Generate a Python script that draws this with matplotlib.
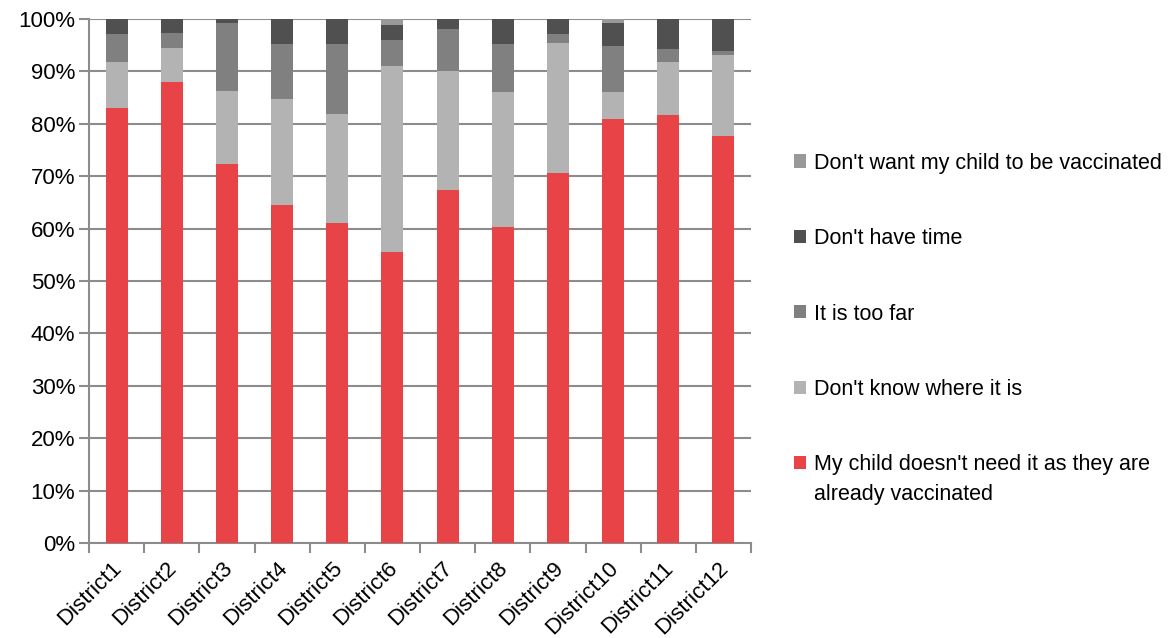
import numpy as np
from matplotlib import pyplot as plt
from matplotlib import transforms

plt.rcParams['font.family'] = ['Liberation Sans', 'DejaVu Sans']

districts = ["District%d" % i for i in range(1, 13)]

# percent of respondents, bottom to top of each stack
alreadyVacc = [83.1, 88.0, 72.3, 64.5, 61.0, 55.5, 67.3, 60.3, 70.7, 81.0, 81.7, 77.7]
dontKnow    = [8.6, 6.5, 14.0, 20.2, 20.9, 35.5, 22.8, 25.8, 24.7, 5.1, 10.0, 15.5]
tooFar      = [5.5, 2.9, 12.9, 10.5, 13.3, 5.0, 8.0, 9.1, 1.8, 8.8, 2.6, 0.6]
noTime      = [2.8, 2.6, 0.8, 4.8, 4.8, 2.9, 1.9, 4.8, 2.8, 4.4, 5.7, 6.2]
dontWant    = [0.0, 0.0, 0.0, 0.0, 0.0, 1.1, 0.0, 0.0, 0.0, 0.7, 0.0, 0.0]

series = [
    ("My child doesn't need it as they are", alreadyVacc, "#e84346"),
    ("Don't know where it is", dontKnow, "#b3b3b3"),
    ("It is too far", tooFar, "#808080"),
    ("Don't have time", noTime, "#505050"),
    ("Don't want my child to be vaccinated", dontWant, "#999999"),
]

fig = plt.figure(figsize=(11.75, 6.38), dpi=100)
ax = fig.add_axes([89/1175, 1-543/638, (751-89)/1175, (543-19)/638])

x = np.arange(len(districts))
bottom = np.zeros(len(districts))
handles = []
for label, vals, col in series:
    b = ax.bar(x, vals, 0.4, bottom=bottom, color=col, label=label, zorder=3)
    handles.append(b)
    bottom += np.array(vals)

ax.set_ylim(0, 100)
ax.set_xlim(-0.5, len(districts) - 0.5)
ax.set_yticks(range(0, 101, 10))
ax.set_yticklabels(["%d%%" % v for v in range(0, 101, 10)], fontsize=16)
ax.yaxis.grid(True, color="#8c8c8c", linewidth=1.5, zorder=0)
ax.tick_params(axis="y", length=7, width=1.5, color="#8c8c8c", pad=3)

ax.set_xticks(x)
ax.set_xticklabels(districts, rotation=45, ha="right", va="center",
                   rotation_mode="anchor", fontsize=16)
ax.set_xticks(np.arange(-0.5, len(districts), 1), minor=True)
ax.tick_params(axis="x", which="major", length=0, pad=16)
ax.tick_params(axis="x", which="minor", length=7, width=1.5, color="#8c8c8c")
shift = transforms.ScaledTranslation(2/100, 0, fig.dpi_scale_trans)
for lbl in ax.get_xticklabels():
    lbl.set_transform(lbl.get_transform() + shift)

for s in ["top", "right"]:
    ax.spines[s].set_visible(False)
for s in ["left", "bottom"]:
    ax.spines[s].set_color("#8c8c8c")
    ax.spines[s].set_linewidth(1.5)

leg = fig.legend(handles[::-1], [h.get_label() for h in handles[::-1]],
                 loc="upper left", bbox_to_anchor=(785/1175, 1-144/638),
                 frameon=False, fontsize=15.5, handlelength=0.56, handleheight=0.56,
                 handletextpad=0.37, labelspacing=2.53, borderaxespad=0)

# second line of the last label, under the first so the square stays on line one
fig.canvas.draw()
bb = leg.get_texts()[-1].get_window_extent()
fig.text(bb.x0 / fig.bbox.width, (bb.y0 - 30) / fig.bbox.height, "already vaccinated",
         fontsize=15.5, ha="left", va="bottom")

fig.savefig("out.png", dpi=100)
